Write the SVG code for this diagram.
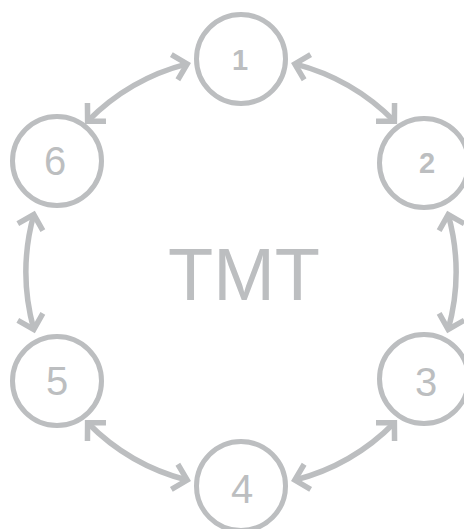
<svg xmlns="http://www.w3.org/2000/svg" width="464" height="529" viewBox="0 0 464 529">
  <style>
    .node circle { fill: none; stroke: #bcbec0; stroke-width: 5; }
    .node text { fill: #bcbec0; font-family: "Liberation Sans", Arial, sans-serif; text-anchor: middle; }
    .small { font-size: 29px; font-weight: bold; }
    .big { font-size: 40px; }
    .conn path { fill: none; stroke: #bcbec0; stroke-width: 5.5; marker-start: url(#head); marker-end: url(#head); }
    .title { fill: #bcbec0; font-family: "Liberation Sans", Arial, sans-serif; font-size: 74px; text-anchor: middle; }
  </style>
  <defs>
    <marker id="head" markerUnits="userSpaceOnUse" viewBox="-20 -20 30 40" refX="0" refY="0" markerWidth="30" markerHeight="40" orient="auto-start-reverse" overflow="visible">
      <path d="M -13,-13 L 0,0 L -13,13" fill="none" stroke="#bcbec0" stroke-width="5.5" stroke-linejoin="miter"/>
    </marker>
  </defs>
  <rect width="464" height="529" fill="#ffffff"/>
  <g id="connectors" class="conn">
    <path d="M 294.8 63.9 A 215 215 0 0 1 394.4 121.3"/>
    <path d="M 448.2 214.6 A 215 215 0 0 1 448.2 329.4"/>
    <path d="M 394.4 422.7 A 215 215 0 0 1 294.8 480.1"/>
    <path d="M 187.2 480.1 A 215 215 0 0 1 87.6 422.7"/>
    <path d="M 33.8 329.4 A 215 215 0 0 1 33.8 214.6"/>
    <path d="M 87.6 121.3 A 215 215 0 0 1 187.2 63.9"/>
  </g>
  <g id="node1" class="node"><circle cx="241" cy="59" r="44.5"/><text class="small" x="240" y="70">1</text></g>
  <g id="node2" class="node"><circle cx="424" cy="163" r="44.5"/><text class="small" x="427" y="173">2</text></g>
  <g id="node3" class="node"><circle cx="424" cy="379" r="44.5"/><text class="big" x="426" y="396">3</text></g>
  <g id="node4" class="node"><circle cx="241" cy="486" r="44.5"/><text class="big" x="242" y="503">4</text></g>
  <g id="node5" class="node"><circle cx="57" cy="381" r="44.5"/><text class="big" x="57" y="395">5</text></g>
  <g id="node6" class="node"><circle cx="57" cy="161" r="44.5"/><text class="big" x="55" y="175">6</text></g>
  <g id="center"><text class="title" x="244" y="300">TMT</text></g>
</svg>
